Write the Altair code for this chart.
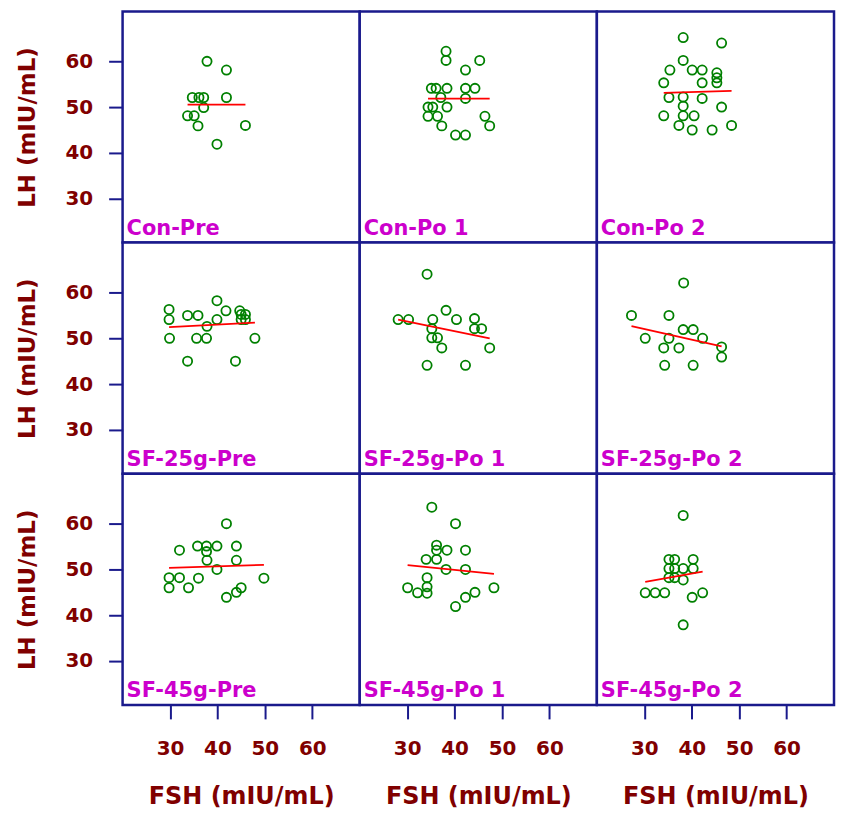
import altair as alt
import pandas as pd

groups = ["Con", "SF-25g", "SF-45g"]
times = ["Pre", "Po 1", "Po 2"]

# FSH (x) and LH (y) values per panel
fsh_con_pre = [37.8, 41.9, 34.7, 36.1, 37.1, 41.9, 37.1, 33.7, 35.1, 35.9, 45.9, 39.9]
lh_con_pre = [60.0, 58.1, 52.1, 52.1, 52.1, 52.1, 49.9, 48.1, 48.1, 45.9, 46.0, 41.9]

fsh_con_po1 = [38.2, 38.2, 45.3, 42.3, 35.1, 36.1, 38.4, 42.3, 44.3, 37.1, 42.3, 34.4, 35.4, 38.4, 34.4, 36.4, 46.4, 37.3, 47.4, 40.2, 42.3]
lh_con_po1 = [62.2, 60.2, 60.2, 58.1, 54.1, 54.1, 54.1, 54.1, 54.1, 52.1, 51.9, 50.0, 50.0, 50.0, 48.0, 48.0, 48.0, 45.9, 45.9, 43.9, 43.9]

fsh_con_po2 = [38.2, 46.3, 38.2, 35.4, 40.1, 42.2, 45.3, 45.3, 45.3, 34.1, 42.2, 35.2, 42.2, 38.2, 38.2, 38.2, 46.3, 34.1, 40.5, 37.3, 40.1, 44.3, 48.4]
lh_con_po2 = [65.2, 64.0, 60.2, 58.1, 58.1, 58.1, 57.5, 56.4, 55.3, 55.3, 55.3, 52.1, 51.9, 52.2, 50.2, 48.1, 50.0, 48.1, 48.1, 46.0, 45.0, 45.0, 46.0]

fsh_25_pre = [39.9, 29.8, 29.8, 33.7, 35.9, 39.9, 41.8, 44.7, 45.0, 45.9, 45.0, 45.9, 37.8, 29.9, 35.6, 37.7, 47.9, 33.7, 43.8]
lh_25_pre = [58.2, 56.3, 54.1, 55.0, 55.0, 54.1, 56.0, 56.0, 55.2, 55.2, 54.1, 54.1, 52.6, 50.0, 50.0, 50.0, 50.0, 45.0, 45.0]

fsh_25_po1 = [34.2, 28.1, 30.3, 35.4, 38.2, 40.4, 44.2, 35.2, 44.2, 45.7, 35.2, 36.4, 37.3, 47.4, 34.2, 42.3]
lh_25_po1 = [64.0, 54.1, 54.1, 54.1, 56.1, 54.1, 54.3, 52.1, 52.1, 52.1, 50.1, 50.1, 47.9, 47.9, 44.1, 44.1]

fsh_25_po2 = [38.3, 27.3, 35.2, 38.2, 40.3, 30.2, 35.2, 42.3, 34.1, 37.3, 46.3, 46.3, 34.3, 40.3]
lh_25_po2 = [62.1, 55.0, 55.0, 51.9, 51.9, 50.0, 50.0, 50.0, 47.9, 47.9, 48.1, 45.9, 44.1, 44.1]

fsh_45_pre = [41.9, 32.0, 35.8, 37.7, 39.9, 44.0, 37.7, 37.8, 44.0, 39.9, 29.8, 32.0, 36.0, 29.8, 33.9, 49.8, 45.0, 44.0, 41.9]
lh_45_pre = [60.0, 54.2, 55.1, 55.1, 55.1, 55.1, 53.9, 52.0, 52.0, 50.0, 48.2, 48.2, 48.1, 46.0, 46.0, 48.1, 46.0, 45.0, 43.9]

fsh_45_po1 = [35.2, 40.2, 36.2, 36.2, 38.4, 42.3, 34.0, 36.2, 38.2, 42.3, 34.2, 30.1, 32.2, 34.2, 34.2, 44.3, 42.3, 48.3, 40.2]
lh_45_po1 = [63.6, 60.0, 55.3, 54.2, 54.2, 54.2, 52.2, 52.2, 50.0, 50.0, 48.2, 46.0, 44.9, 46.2, 44.8, 45.0, 43.9, 46.0, 41.9]

fsh_45_po2 = [38.2, 35.2, 36.4, 40.3, 35.2, 36.4, 38.2, 40.3, 35.2, 36.4, 38.2, 30.2, 32.3, 34.3, 40.1, 42.3, 38.2]
lh_45_po2 = [61.8, 52.2, 52.2, 52.2, 50.2, 50.2, 50.2, 50.2, 48.2, 48.2, 47.7, 44.9, 44.9, 44.9, 43.9, 44.9, 37.9]

x_ticks = [30, 40, 50, 60]
y_ticks = [30, 40, 50, 60]

panels = {
    ("Con", "Pre"): (fsh_con_pre, lh_con_pre),
    ("Con", "Po 1"): (fsh_con_po1, lh_con_po1),
    ("Con", "Po 2"): (fsh_con_po2, lh_con_po2),
    ("SF-25g", "Pre"): (fsh_25_pre, lh_25_pre),
    ("SF-25g", "Po 1"): (fsh_25_po1, lh_25_po1),
    ("SF-25g", "Po 2"): (fsh_25_po2, lh_25_po2),
    ("SF-45g", "Pre"): (fsh_45_pre, lh_45_pre),
    ("SF-45g", "Po 1"): (fsh_45_po1, lh_45_po1),
    ("SF-45g", "Po 2"): (fsh_45_po2, lh_45_po2),
}

FONT = "DejaVu Sans"
MAROON = "#800000"
NAVY = "#1a1a8c"
PW, PH = 238, 232

x_scale = alt.Scale(domain=[20, 70], nice=False, zero=False)
y_scale = alt.Scale(domain=[20.4, 70.9], nice=False, zero=False)

x_axis = alt.Axis(
    values=x_ticks, grid=False, domain=False, tickSize=14, tickWidth=2,
    tickColor=NAVY, labelFont=FONT, labelFontSize=20, labelFontWeight="bold",
    labelColor=MAROON, labelPadding=20, title="FSH (mIU/mL)", titleFont=FONT,
    titleFontSize=24, titleFontWeight="bold", titleColor=MAROON, titlePadding=26,
)
y_axis = alt.Axis(
    values=y_ticks, grid=False, domain=False, tickSize=14, tickWidth=2,
    tickColor=NAVY, labelFont=FONT, labelFontSize=20, labelFontWeight="bold",
    labelColor=MAROON, labelPadding=16, labelAlign="right",
    title="LH (mIU/mL)", titleFont=FONT,
    titleFontSize=23, titleFontWeight="bold", titleColor=MAROON, titlePadding=26,
)


def make_panel(g, t, show_x, show_y):
    xs, ys = panels[(g, t)]
    data = pd.DataFrame({"fsh": xs, "lh": ys})
    lab = pd.DataFrame({"label": [f"{g}-{t}"]})
    if show_x:
        xe = alt.X("fsh:Q", scale=x_scale, axis=x_axis)
    else:
        xe = alt.X("fsh:Q", scale=x_scale, axis=None)
    if show_y:
        ye = alt.Y("lh:Q", scale=y_scale, axis=y_axis)
    else:
        ye = alt.Y("lh:Q", scale=y_scale, axis=None)
    pts = alt.Chart(data).mark_point(
        shape="circle", filled=False, size=85, strokeWidth=1.8,
        color="#008000", opacity=1,
    ).encode(x=xe, y=ye)
    reg = alt.Chart(data).mark_line(color="#ff0000", strokeWidth=1.8).transform_regression(
        "fsh", "lh"
    ).encode(x=xe, y=ye)
    txt = alt.Chart(lab).mark_text(
        align="left", baseline="bottom", font=FONT, fontSize=21, fontWeight="bold",
        color="#cc00cc",
    ).encode(x=alt.value(4), y=alt.value(PH - 4), text="label:N")
    return alt.layer(pts, reg, txt).properties(width=PW, height=PH)


cells = []
for gi, g in enumerate(groups):
    for ti, t in enumerate(times):
        cells.append(make_panel(g, t, gi == len(groups) - 1, ti == 0))

chart = alt.concat(*cells, columns=3, spacing=0, bounds="flush").properties(
    padding={"left": 6, "top": 0, "right": 0, "bottom": 0},
    background="white",
).configure_view(
    stroke=NAVY, strokeWidth=2.5, fill="white"
)

chart.save("out.html", embed_options={"renderer": "svg", "actions": False})
